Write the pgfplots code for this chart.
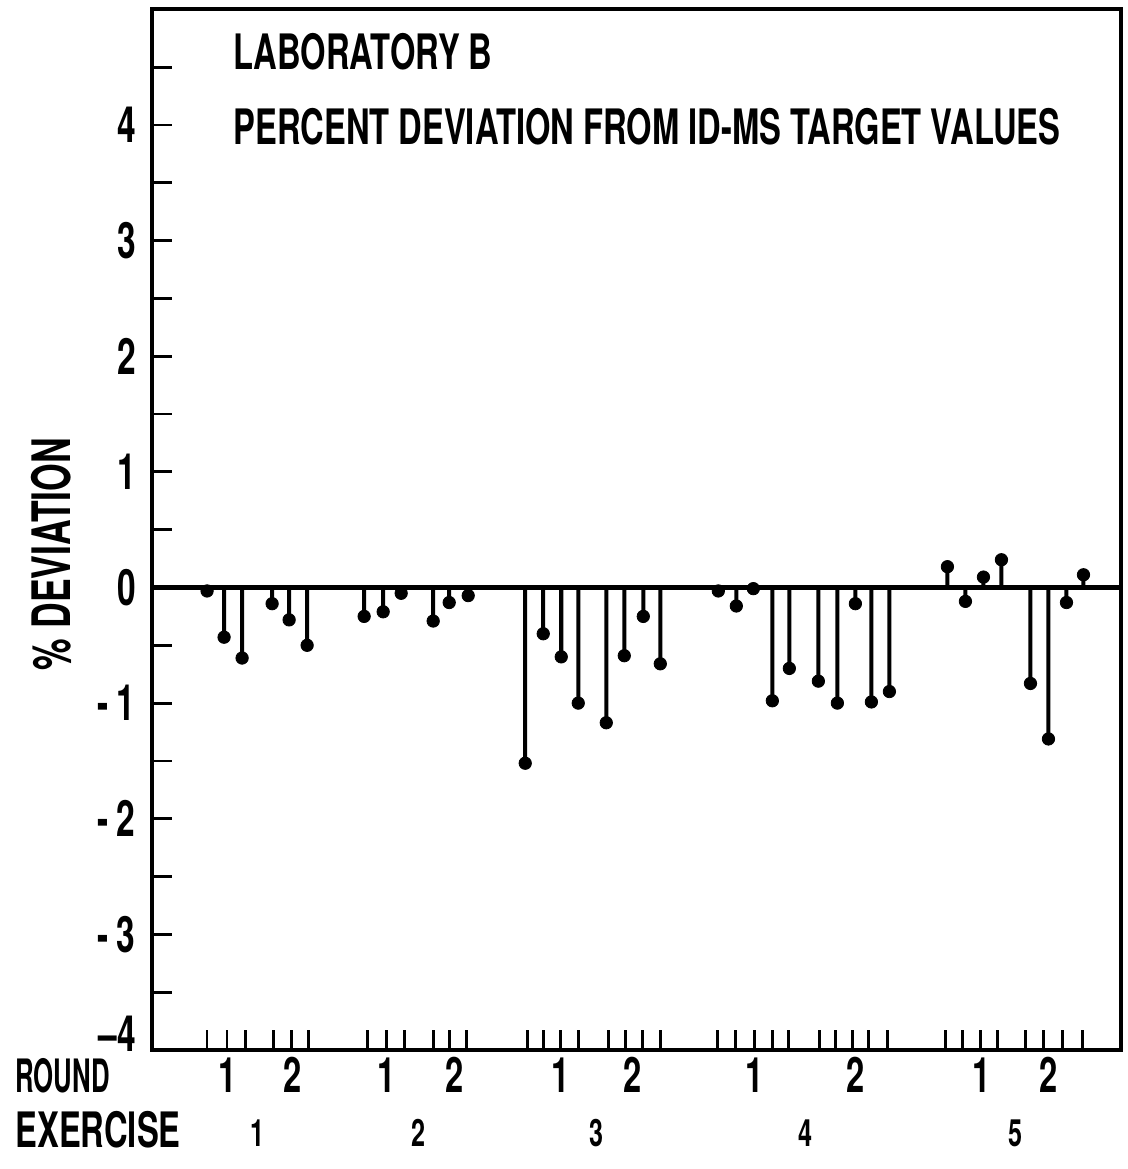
\documentclass[border=0pt]{standalone}
\usepackage{fontspec}
\usepackage{pgfplots}
\pgfplotsset{compat=1.18}
\setmainfont[FakeStretch=0.67]{TeX Gyre Heros}
\newfontfamily\narrowf[FakeStretch=0.56]{TeX Gyre Heros}
\newcommand\fs[1]{\fontsize{#1}{#1}\selectfont\bfseries}
\pgfplotstableread{
x y
207 -0.03
224 -0.43
242 -0.61
272 -0.14
289 -0.28
307 -0.50
364 -0.25
383 -0.21
401 -0.05
433 -0.29
449 -0.13
468 -0.07
525 -1.52
543 -0.40
561 -0.60
578 -1.00
606 -1.17
624 -0.59
643 -0.25
660 -0.66
718 -0.03
736 -0.16
753 -0.01
772 -0.98
789 -0.70
818 -0.81
837 -1.00
855 -0.14
871 -0.99
889 -0.90
947 0.18
965 -0.12
983 0.09
1001 0.24
1030 -0.83
1048 -1.31
1066 -0.13
1083 0.11
}\labB
\begin{document}
\begin{tikzpicture}
\begin{axis}[
  scale only axis, width=484pt, height=520pt,
  xmin=152, xmax=1120, ymin=-4, ymax=5,
  clip=false,
  axis line style={line width=2pt},
  xtick={207,227,245,273,291,308,367,386,404,433,449,466,527,543,560,578,608,625,642,660,717,735,754,772,788,819,835,852,868,887,945,962,980,997,1025,1043,1062,1082},
  xticklabels={},
  ytick={-4,-3,-2,-1,0,1,2,3,4},
  yticklabels={\raisebox{8pt}[\height][\depth]{--4},-\,3,-\,2,-\,1,0,1,2,3,4},
  minor ytick={-3.5,-2.5,-1.5,-0.5,0.5,1.5,2.5,3.5,4.5},
  tick align=inside, xtick pos=bottom, ytick pos=left,
  major tick length=10pt, minor tick length=10pt,
  every tick/.style={line width=1.4pt, black},
  yticklabel style={font=\fs{25}, inner sep=0pt, xshift=-8pt},
]
\path[use as bounding box] (axis cs:0,5.082) rectangle (axis cs:1127,-5.030);
\addplot[line width=2.2pt, black] coordinates {(152,0) (1120,0)};
\addplot[ybar, bar width=2pt, fill=black, draw=none, bar shift=0pt] table[x=x,y=y] {\labB};
\addplot[only marks, mark=*, mark size=3.1pt, black] table[x=x,y=y] {\labB};
% titles
\node[anchor=west, inner sep=0pt, font=\fs{24.4}] at (axis cs:233,4.632) {LABORATORY B};
\node[anchor=west, inner sep=0pt, font=\fs{24.4}] at (axis cs:233,3.984) {PERCENT DEVIATION FROM ID-MS TARGET VALUES};
% y label
\node[rotate=90, inner sep=0pt, font=\fs{26.5}] at (axis cs:51,0.29) {\% DEVIATION};
% bottom labels
\node[anchor=west, inner sep=0pt, font=\narrowf\fs{23}] at (axis cs:15,-4.226) {ROUND};
\node[anchor=west, inner sep=0pt, font=\fs{24.4}] at (axis cs:15,-4.693) {EXERCISE};
\node[inner sep=0pt, font=\fs{24.4}] at (axis cs:227,-4.217) {1};
\node[inner sep=0pt, font=\fs{24.4}] at (axis cs:292,-4.217) {2};
\node[inner sep=0pt, font=\fs{24.4}] at (axis cs:386,-4.217) {1};
\node[inner sep=0pt, font=\fs{24.4}] at (axis cs:454,-4.217) {2};
\node[inner sep=0pt, font=\fs{24.4}] at (axis cs:560,-4.217) {1};
\node[inner sep=0pt, font=\fs{24.4}] at (axis cs:632,-4.217) {2};
\node[inner sep=0pt, font=\fs{24.4}] at (axis cs:754,-4.217) {1};
\node[inner sep=0pt, font=\fs{24.4}] at (axis cs:855,-4.217) {2};
\node[inner sep=0pt, font=\fs{24.4}] at (axis cs:981,-4.217) {1};
\node[inner sep=0pt, font=\fs{24.4}] at (axis cs:1048,-4.217) {2};
\node[inner sep=0pt, font=\fs{18.8}] at (axis cs:257,-4.72) {1};
\node[inner sep=0pt, font=\fs{18.8}] at (axis cs:418,-4.72) {2};
\node[inner sep=0pt, font=\fs{18.8}] at (axis cs:596,-4.72) {3};
\node[inner sep=0pt, font=\fs{18.8}] at (axis cs:805,-4.72) {4};
\node[inner sep=0pt, font=\fs{18.8}] at (axis cs:1015,-4.72) {5};
\end{axis}
\end{tikzpicture}
\end{document}
